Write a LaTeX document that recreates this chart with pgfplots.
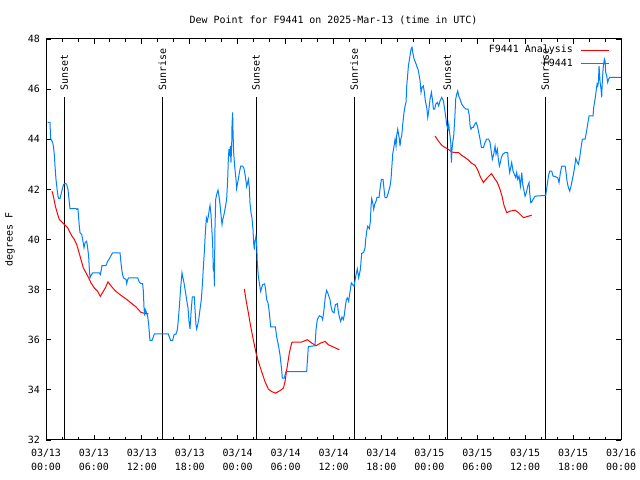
\documentclass[border=0pt]{standalone}
\usepackage{fontspec}
\setmainfont{DejaVu Sans Mono}
\setmonofont{DejaVu Sans Mono}
\usepackage{pgfplots}
\usepackage{pgfplotstable}
\pgfplotsset{compat=1.18}
\definecolor{dblue}{RGB}{0,128,255}
\definecolor{dred}{RGB}{255,0,0}

\pgfplotstableread{
h v
0.21 44.67
0.50 44.67
0.58 44.03
0.83 43.87
0.92 43.73
1.04 43.40
1.13 42.93
1.25 42.40
1.38 42.03
1.50 41.73
1.59 41.63
1.75 41.63
1.88 41.80
2.09 42.07
2.21 42.20
2.42 42.24
2.59 42.20
2.75 42.00
2.84 41.73
2.92 41.47
3.00 41.23
3.76 41.23
3.84 41.20
4.00 41.23
4.17 40.53
4.26 40.27
4.47 40.20
4.59 40.00
4.76 39.67
4.84 39.80
4.92 39.89
5.09 39.93
5.18 39.76
5.34 39.33
5.43 38.80
5.51 38.47
5.63 38.56
5.84 38.67
6.68 38.67
6.80 38.60
6.93 38.80
7.01 38.96
7.51 38.96
7.72 39.13
7.93 39.23
8.14 39.36
8.35 39.47
9.27 39.47
9.39 39.07
9.52 38.73
9.68 38.47
10.02 38.40
10.10 38.24
10.23 38.40
10.35 38.47
11.48 38.47
11.69 38.29
11.90 38.24
12.10 38.24
12.19 37.93
12.27 37.31
12.35 36.96
12.44 37.20
12.60 37.07
12.73 36.93
12.85 36.64
12.94 36.27
13.02 35.97
13.27 35.97
13.44 36.11
13.56 36.23
15.32 36.23
15.44 36.11
15.61 35.97
15.86 35.97
16.03 36.20
16.28 36.23
16.45 36.40
16.57 36.80
16.70 37.33
16.86 38.07
17.03 38.67
17.11 38.53
17.28 38.27
17.45 37.93
17.61 37.60
17.78 37.27
17.91 36.73
18.03 36.43
18.16 37.07
18.24 37.40
18.32 37.71
18.57 37.71
18.66 37.20
18.78 36.60
18.87 36.43
18.95 36.53
19.12 36.80
19.28 37.20
19.45 37.60
19.53 37.97
19.62 38.40
19.70 38.87
19.83 39.53
19.95 40.27
20.08 40.87
20.20 40.73
20.33 40.93
20.45 41.20
20.54 41.36
20.66 41.00
20.79 40.27
20.87 39.80
20.95 38.73
21.04 39.07
21.08 38.13
21.16 40.47
21.25 41.60
21.37 41.80
21.54 41.97
21.66 41.73
21.79 41.40
21.91 41.00
22.04 40.60
22.12 40.77
22.29 41.00
22.45 41.27
22.62 41.60
22.75 42.40
22.83 43.20
22.91 43.60
23.00 43.33
23.08 43.73
23.16 43.07
23.25 43.73
23.29 44.53
23.37 45.07
23.42 44.27
23.50 43.47
23.62 42.93
23.79 42.40
23.87 42.03
23.96 42.20
24.08 42.40
24.21 42.67
24.38 42.93
24.63 42.93
24.79 42.83
24.92 42.60
25.04 42.33
25.13 42.11
25.25 42.27
25.34 42.40
25.46 42.07
25.54 41.47
25.67 41.07
25.79 40.87
25.92 40.40
26.00 39.87
26.09 39.60
26.17 39.93
26.29 40.13
26.38 39.80
26.46 39.07
26.59 38.53
26.71 38.27
26.88 37.93
27.00 38.07
27.13 38.20
27.38 38.23
27.50 38.00
27.63 37.60
27.80 37.47
27.92 37.20
28.05 36.80
28.13 36.51
28.72 36.51
28.88 36.13
29.13 35.73
29.30 35.40
29.51 34.80
29.59 34.47
29.84 34.47
30.05 34.73
32.64 34.73
32.85 35.73
33.68 35.76
33.81 36.40
33.97 36.80
34.23 36.96
34.52 36.91
34.64 36.80
34.81 37.20
34.98 37.73
35.14 37.97
35.31 37.84
35.56 37.60
35.69 37.33
35.85 37.13
36.06 37.07
36.23 37.40
36.48 37.44
36.60 37.13
36.73 36.91
36.90 36.73
37.06 36.91
37.23 36.80
37.36 37.00
37.48 37.33
37.61 37.60
37.73 37.67
37.90 37.53
37.98 37.73
38.23 38.27
38.40 38.20
38.57 38.13
38.82 38.60
38.98 38.83
39.15 38.47
39.36 38.80
39.45 39.13
39.53 39.44
39.78 39.49
39.95 39.67
40.03 40.00
40.16 40.33
40.28 40.53
40.49 40.43
40.62 40.73
40.70 41.33
40.78 41.63
40.91 41.47
41.03 41.20
41.16 41.40
41.33 41.53
41.45 41.68
41.70 41.68
41.87 42.13
42.00 42.40
42.20 42.40
42.33 42.00
42.45 41.67
42.66 41.67
42.87 41.87
43.08 42.13
43.20 42.40
43.41 43.40
43.58 43.73
43.71 44.00
43.83 43.73
43.91 44.13
44.04 44.40
44.25 44.00
44.33 43.73
44.42 44.00
44.54 44.13
44.67 44.60
44.83 45.07
44.96 45.33
45.08 45.47
45.17 46.13
45.38 46.93
45.58 47.33
45.71 47.60
45.83 47.67
45.92 47.47
46.09 47.20
46.34 47.00
46.63 46.73
46.84 46.33
46.96 45.87
47.09 46.07
47.25 46.13
47.38 45.87
47.50 45.53
47.67 45.27
47.80 44.87
47.92 45.13
48.09 45.60
48.26 45.87
48.38 45.60
48.51 45.20
48.67 45.20
48.80 45.40
49.01 45.47
49.17 45.33
49.34 45.53
49.55 45.67
49.76 45.53
49.92 45.20
50.09 44.80
50.17 44.60
50.26 44.47
50.34 44.40
50.43 44.60
50.51 44.33
50.59 44.13
50.68 43.87
50.76 43.07
50.84 43.60
50.93 43.87
51.05 44.13
51.18 44.80
51.30 45.60
51.43 45.80
51.55 45.93
51.68 45.73
51.85 45.60
52.05 45.40
52.35 45.27
52.60 45.20
52.85 45.20
53.01 44.93
53.10 44.53
53.22 44.40
53.35 44.47
53.51 44.47
53.68 44.60
53.85 44.67
54.02 44.53
54.18 44.27
54.35 44.00
54.52 43.67
54.77 43.67
54.97 43.87
55.18 44.00
55.43 44.00
55.60 43.87
55.77 43.47
55.89 43.20
56.06 43.40
56.23 43.73
56.35 43.40
56.52 43.60
56.64 43.20
56.77 42.93
56.89 43.07
57.02 43.27
57.19 43.40
57.48 43.47
57.81 43.47
57.90 43.07
58.06 42.67
58.19 42.87
58.31 43.07
58.48 42.73
58.65 42.60
58.82 42.47
58.94 42.67
59.07 42.40
59.23 42.53
59.40 42.13
59.57 42.67
59.69 42.20
59.82 42.00
59.98 41.73
60.15 41.87
60.32 42.13
60.49 42.27
60.57 41.87
60.69 41.47
60.82 41.49
60.99 41.60
61.24 41.73
62.57 41.76
62.74 42.13
62.91 42.53
63.07 42.73
63.32 42.73
63.49 42.53
63.74 42.51
64.07 42.47
64.24 42.27
64.41 42.67
64.58 42.93
65.00 42.93
65.12 42.67
65.24 42.33
65.41 42.07
65.58 41.93
65.74 42.13
65.91 42.40
66.08 42.67
66.24 43.00
66.33 43.23
66.50 43.09
66.66 43.00
66.83 43.27
67.00 43.67
67.16 44.00
67.50 44.00
67.66 44.27
67.83 44.60
68.00 44.93
68.50 44.93
68.58 45.27
68.75 45.60
68.92 46.00
69.00 46.20
69.08 46.13
69.17 46.27
69.25 46.93
69.38 46.27
69.50 46.00
69.58 45.67
69.67 46.40
69.79 46.93
69.92 47.20
70.00 47.13
70.08 46.67
70.21 46.53
70.33 46.27
70.46 46.40
70.59 46.47
72.00 46.47
}\obs

\pgfplotstableread{
h v
0.75 41.93
0.92 41.73
1.17 41.33
1.46 41.00
1.67 40.80
1.88 40.73
2.30 40.60
2.71 40.47
2.92 40.33
3.26 40.13
3.55 40.00
3.84 39.80
4.09 39.53
4.38 39.20
4.67 38.87
5.01 38.67
5.34 38.47
5.63 38.27
6.05 38.07
6.47 37.93
6.80 37.73
7.10 37.89
7.43 38.07
7.76 38.31
8.01 38.20
8.35 38.07
8.76 37.93
9.39 37.77
10.02 37.63
10.64 37.47
11.27 37.31
11.90 37.09
12.52 37.04
12.81 37.04
18.00 nan
24.83 38.03
25.04 37.60
25.34 37.07
25.63 36.53
25.96 36.00
26.30 35.47
26.59 35.13
27.00 34.73
27.42 34.33
27.84 34.03
28.26 33.93
28.76 33.87
29.30 33.97
29.72 34.07
29.93 34.33
30.14 34.80
30.47 35.47
30.76 35.87
30.89 35.91
32.01 35.91
32.72 36.00
33.27 35.87
33.81 35.76
34.39 35.87
34.94 35.93
35.35 35.80
35.98 35.71
36.73 35.60
42.00 nan
48.72 44.13
49.13 43.93
49.55 43.76
49.97 43.67
50.38 43.60
50.80 43.49
51.22 43.47
51.64 43.47
52.05 43.36
52.47 43.27
52.89 43.17
53.31 43.04
53.72 42.96
54.02 42.80
54.35 42.53
54.77 42.27
55.27 42.47
55.77 42.63
56.10 42.47
56.52 42.27
56.85 42.00
57.10 41.73
57.35 41.36
57.69 41.07
58.11 41.13
58.73 41.17
59.15 41.07
59.78 40.87
60.20 40.91
60.82 40.97
}\ana

\pgfplotstableread{
h top
2.30 45.68
14.57 45.68
26.30 45.68
38.60 45.68
50.25 45.68
62.50 45.68
}\sun

\begin{document}
\fontsize{10}{14}\selectfont
\begin{tikzpicture}[x=1bp,y=1bp]
\path[use as bounding box] (-46,-40) rectangle (594,440);
\begin{axis}[
  at={(0,0)}, anchor=south west,
  scale only axis, width=575bp, height=401bp,
  xmin=0, xmax=72, ymin=32, ymax=48,
  xtick={0,6,...,72}, minor xtick={0,2,...,72},
  ytick={32,34,...,48},
  xticklabels={03/13\\00:00,03/13\\06:00,03/13\\12:00,03/13\\18:00,03/14\\00:00,03/14\\06:00,03/14\\12:00,03/14\\18:00,03/15\\00:00,03/15\\06:00,03/15\\12:00,03/15\\18:00,03/16\\00:00},
  tick align=inside, major tick length=5bp, minor tick length=3bp,
  tick style={black, line width=0.8bp},
  axis line style={line width=1bp},
  /pgf/number format/assume math mode=true,
  xticklabel style={align=center, inner sep=0pt, font=\fontsize{10}{14}\selectfont},
  yticklabel style={inner sep=0pt, font=\fontsize{10}{14}\selectfont},
  xticklabel shift=9bp, yticklabel shift=6bp,
  unbounded coords=jump,
  legend plot pos=right,
  legend cell align=right,
  legend image code/.code={\draw[#1] (0bp,0bp) -- (28bp,0bp);},
  legend style={at={(1,1)}, anchor=north east, xshift=-11bp, yshift=-6bp,
    draw=none, fill=none, inner sep=0pt, row sep=3.5bp,
    font=\fontsize{10}{14}\selectfont,
    nodes={inner sep=0pt, text height=7.5bp, text depth=2.5bp},
    /tikz/every odd column/.append style={column sep=8bp}},
]
\addplot[black, line width=1bp, forget plot, ycomb] table[x=h, y=top] {\sun};
\addplot[dred, line width=1bp] table[x=h, y=v] {\ana};
\addlegendentry{F9441 Analysis}
\addplot[dblue, line width=1bp] table[x=h, y=v] {\obs};
\addlegendentry{F9441}
\node[rotate=90, anchor=west, inner sep=0pt] at (axis cs:2.30,45.92) {Sunset};
\node[rotate=90, anchor=west, inner sep=0pt] at (axis cs:14.57,45.92) {Sunrise};
\node[rotate=90, anchor=west, inner sep=0pt] at (axis cs:26.30,45.92) {Sunset};
\node[rotate=90, anchor=west, inner sep=0pt] at (axis cs:38.60,45.92) {Sunrise};
\node[rotate=90, anchor=west, inner sep=0pt] at (axis cs:50.25,45.92) {Sunset};
\node[rotate=90, anchor=west, inner sep=0pt] at (axis cs:62.50,45.92) {Sunrise};
\end{axis}
\node at (287.5,420) {Dew Point for F9441 on 2025-Mar-13 (time in UTC)};
\node[rotate=90] at (-36,200.5) {degrees F};
\end{tikzpicture}
\end{document}
